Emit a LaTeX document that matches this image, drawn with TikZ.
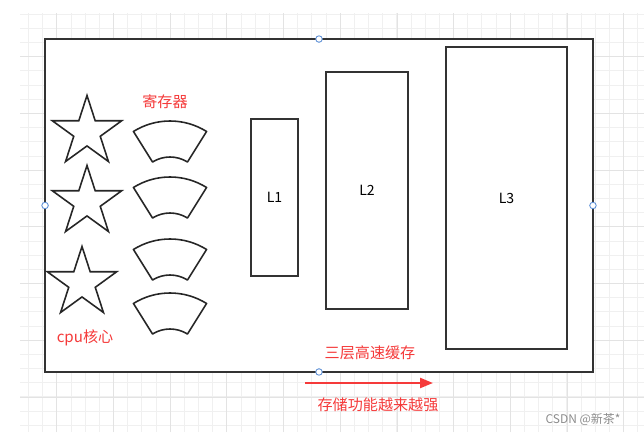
\documentclass[tikz,border=0pt]{standalone}
\usepackage{fontspec}
\setmainfont{Noto Sans CJK SC}
\usetikzlibrary{arrows.meta,positioning,shapes.geometric}
\definecolor{notered}{RGB}{245,58,58}
\definecolor{handleblue}{RGB}{95,145,215}

\begin{document}
\begin{tikzpicture}[x=0.02cm,y=0.02cm,every node/.style={font=\fontsize{8}{9}\selectfont},
    box/.style={draw=black!80,line width=0.9pt,outer sep=0pt,inner sep=0pt},
    core/.style={star,star points=5,star point ratio=2.618,draw=black!85,line width=0.9pt,minimum size=1.46cm,inner sep=0pt},
    reg/.style={draw=black!85,line width=0.9pt,line join=round},
    note/.style={text=notered,font=\fontsize{8.6}{10}\selectfont},
    handle/.style={circle,draw=handleblue,fill=white,line width=0.5pt,minimum size=0.13cm,inner sep=0pt}]
  \useasboundingbox (0,0) rectangle (644,-435);
  % editor grid
  \draw[black!6,step=14.17] (20,-13) grid (644,-432);
  \draw[black!11,step=56.7] (20,-13) grid (644,-432);

  % cpu frame and the three caches
  \node[box,fill=white,line width=1.1pt,minimum width=10.96cm,minimum height=6.66cm] (cpu) at (319,-205.5) {};
  \node[box,minimum width=0.94cm,minimum height=3.14cm] (l1) at (274.5,-197.5) {L1};
  \node[box,minimum width=1.64cm,minimum height=4.74cm] (l2) at (367,-190.5) {L2};
  \node[box,minimum width=2.42cm,minimum height=6.04cm] (l3) at (506.5,-198) {L3};

  % cores
  \node[core] (core1) at (87,-132) {};
  \node[core] (core2) at (87,-202) {};
  \node[core] (core3) at (82,-283) {};

  % registers
  \foreach \y in {190,246,308,362}
    \draw[reg] (170,-\y) ++(58:69) arc[start angle=58,end angle=122,radius=69]
      -- ++(302:36) arc[start angle=122,end angle=58,radius=33] -- cycle;

  \node[note] (regtext) at (165,-102) {寄存器};
  \node[note] (coretext) at (85,-338) {cpu核心};
  \node[note] (cachetext) at (370,-353) {三层高速缓存};

  % selection handles
  \foreach \a in {north,south,east,west}
    \node[handle] at (cpu.\a) {};

  \coordinate (from) at (305,-383);
  \coordinate (to) at (433,-383);
  \draw[notered,line width=1.3pt,-{Triangle[length=0.26cm,width=0.2cm]}] (from) -- (to);
  \node[note] (trend) at (378,-405) {存储功能越来越强};

  \node[text=black!45,font=\fontsize{6.8}{8}\selectfont] (mark) at (583,-419) {CSDN @新茶*};
\end{tikzpicture}
\end{document}
